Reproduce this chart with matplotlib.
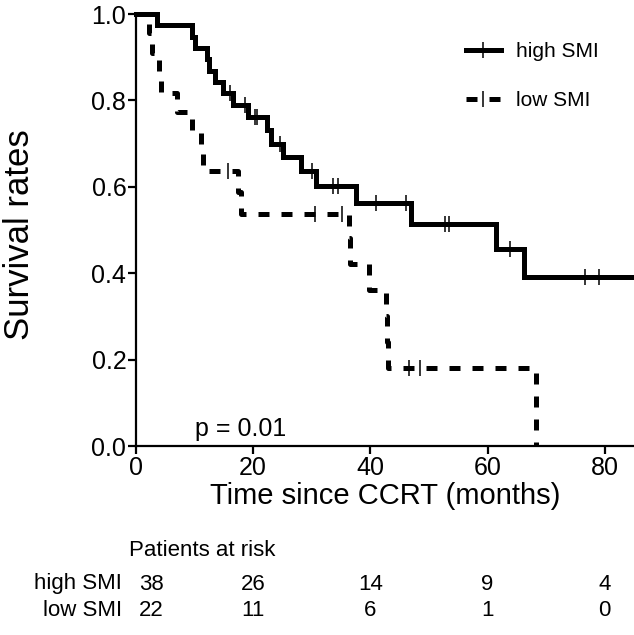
import numpy as np
import matplotlib
matplotlib.use("Agg")
import matplotlib.pyplot as plt
from matplotlib.lines import Line2D

plt.rcParams['font.family'] = ['Liberation Sans', 'DejaVu Sans']

# high SMI: step times (months) and survival after each step
high_t = [0, 3.6, 9.5, 10.0, 12.2, 12.5, 13.5, 14.9, 16.6, 19.1, 22.4, 23.0,
          25.1, 28.2, 30.8, 37.6, 47.0, 61.5, 66.3]
high_s = [1.0, 0.974, 0.947, 0.921, 0.895, 0.868, 0.842, 0.816, 0.789, 0.761,
          0.731, 0.700, 0.670, 0.637, 0.603, 0.562, 0.514, 0.456, 0.392]
high_cens = [16.0, 18.6, 20.3, 20.7, 24.6, 30.1, 33.6, 34.4, 40.9, 46.0,
             52.8, 53.4, 63.9, 76.7, 79.1]

# low SMI
low_t = [0, 2.2, 2.8, 4.0, 4.2, 7.0, 9.5, 11.1, 11.4, 17.4, 18.0, 36.4,
         36.6, 39.7, 42.6, 42.8, 43.0, 68.3]
low_s = [1.0, 0.955, 0.909, 0.864, 0.818, 0.773, 0.727, 0.682, 0.636, 0.587,
         0.538, 0.481, 0.421, 0.361, 0.301, 0.241, 0.181, 0.0]
low_cens = [15.7, 30.5, 35.2, 46.6, 48.5]

end_time = 85
risk_times = [0, 20, 40, 60, 80]
risk_high = [38, 26, 14, 9, 4]
risk_low = [22, 11, 6, 1, 0]
groups = ['high SMI', 'low SMI']


def surv_at(times, surv, t):
    i = np.searchsorted(times, t, side='right') - 1
    return np.asarray(surv)[i]


fig = plt.figure(figsize=(6.34, 6.35), dpi=100)
ax = fig.add_axes([136 / 634, 189 / 635, 498 / 634, 432 / 635])

lw = 3.6
dash = (0, (2.2, 2.4))

# high SMI curve
ht = list(high_t) + [end_time]
hs = list(high_s) + [high_s[-1]]
ax.step(ht, hs, where='post', color='black', lw=lw, clip_on=False,
        solid_joinstyle='miter')
ax.plot(high_cens, surv_at(high_t, high_s, high_cens), ls='none',
        marker='|', ms=11, mew=1.1, color='black', clip_on=False)

# low SMI curve (ends at last death)
ax.step(low_t, low_s, where='post', color='black', lw=lw, ls=dash,
        clip_on=False, dash_capstyle='butt')
ax.plot(low_cens, surv_at(low_t, low_s, low_cens), ls='none',
        marker='|', ms=11, mew=1.1, color='black', clip_on=False)

ax.set_xlim(0, end_time)
ax.set_ylim(0, 1)
ax.set_xticks([0, 20, 40, 60, 80])
ax.set_yticks([0, 0.2, 0.4, 0.6, 0.8, 1.0])
ax.set_yticklabels(['0.0', '0.2', '0.4', '0.6', '0.8', '1.0'])
for s in ['top', 'right']:
    ax.spines[s].set_visible(False)
for s in ['left', 'bottom']:
    ax.spines[s].set_linewidth(1.6)
ax.tick_params(direction='out', length=6, width=1.6, labelsize=18, pad=1)
ax.set_xlabel('Time since CCRT (months)', fontsize=21, labelpad=2)
ax.set_ylabel('Survival rates', fontsize=25, va='center')
ax.yaxis.set_label_coords((20 - 136) / 498, 0.49)

ax.text(10, 0.04, 'p = 0.01', fontsize=18, ha='left', va='center')

handles = [
    Line2D([], [], color='black', lw=lw, marker='|', ms=11, mew=1.1),
    Line2D([], [], color='black', lw=lw, ls=dash, marker='|', ms=11, mew=1.1),
]
ax.legend(handles, groups, loc='upper right', bbox_to_anchor=(0.966, 0.978),
          frameon=False, fontsize=15, handlelength=1.7, handletextpad=0.7,
          labelspacing=1.45, numpoints=1)

# risk table
fig.text(129 / 634, 1 - 550 / 635, 'Patients at risk', fontsize=16,
         ha='left', va='center')
for row, (lab, vals) in enumerate(zip(groups, [risk_high, risk_low])):
    yf = 1 - (584 + 27 * row) / 635
    fig.text(122 / 634, yf, lab, fontsize=16, ha='right', va='center')
    for k, (t, v) in enumerate(zip(risk_times, vals)):
        xd = ax.transData.transform((t, 0))[0]
        xf = fig.transFigure.inverted().transform((xd, 0))[0]
        if k == 0:
            fig.text(xf + 3 / 634, yf, str(v), fontsize=16, ha='left',
                     va='center')
        else:
            fig.text(xf, yf, str(v), fontsize=16, ha='center', va='center')

fig.savefig('out.png', dpi=100)
